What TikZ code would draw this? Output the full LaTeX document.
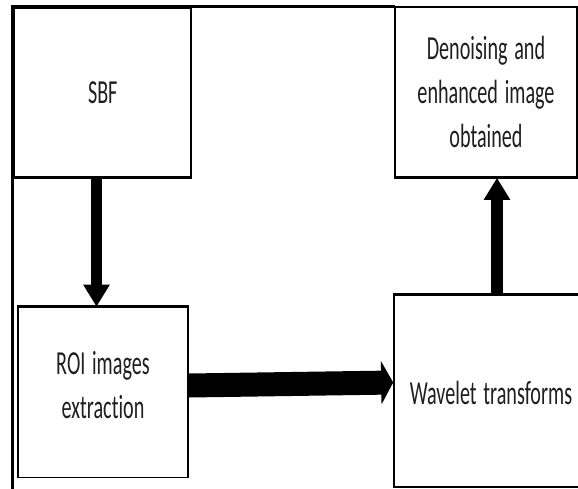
\documentclass[tikz,border=0pt]{standalone}
\usepackage{fontspec}
\usetikzlibrary{arrows.meta}
\newfontfamily\boxfont[Ligatures=NoCommon]{Carlito}
% narrow lettering used in every block
\newcommand{\sq}[1]{\scalebox{0.6}[1]{#1}}
\tikzset{
  blocktext/.style={text=black!88, align=center, text width=170pt, inner sep=0pt,
    font=\boxfont\fontsize{33.6}{44}\selectfont},
  block/.style={draw=black, line width=1.6pt, fill=white, inner sep=0pt, blocktext},
  heavyedge/.style={line width=3.2pt, black},
  flow/.style={line width=11.5pt, black, -{Triangle[length=22pt, width=25pt]}},
  flowwide/.style={line width=24pt, black, -{Triangle[length=12pt, width=43pt]}},
  frameline/.style={line width=3pt, black}
}
\begin{document}
\begin{tikzpicture}[x=1pt, y=-1pt]
  \useasboundingbox (0,0) rectangle (578,488);

  % outer frame (left and top sides)
  \coordinate (fb) at (12.5,490);
  \coordinate (fc) at (12.5,6.5);
  \coordinate (fr) at (395,6.5);
  \draw[frameline] (fb) -- (fc) -- (fr);

  % blocks
  \node[block, minimum width=176.5pt, minimum height=169pt] (sbf) at (102.75,92.5) {\sq{SBF}};
  \node[block, minimum width=182pt, minimum height=170pt] (den) at (486,92) {\sq{Denoising and}\\\sq{enhanced image}\\\sq{obtained}};
  \node[block, minimum width=166pt, minimum height=170pt] (roi) at (103,392.5) {};
  \node[blocktext] (roitxt) at (103,385) {\sq{ROI images}\\\sq{extraction}};
  \node[block, minimum width=196pt, minimum height=192pt] (wav) at (492,391) {};
  \node[blocktext] (wavtxt) at (491,393) {\sq{Wavelet transforms}};

  % heavier edges where the arrows meet the blocks
  \draw[heavyedge] (sbf.south west) -- (sbf.south east);
  \draw[heavyedge] (den.south west) -- (den.south east);
  \draw[heavyedge] (roi.north west) -- (roi.north east);
  \draw[heavyedge] (wav.north west) -- (wav.north east);

  % arrows
  \draw[flow] ([xshift=-6.25pt]sbf.south) -- ([xshift=-6.5pt]roi.north);
  \draw[flowwide] ([yshift=7pt]roi.east) -- ([yshift=8.5pt]wav.west);
  \draw[flow] ([xshift=5pt]wav.north) -- ([xshift=11pt]den.south);
\end{tikzpicture}
\end{document}
